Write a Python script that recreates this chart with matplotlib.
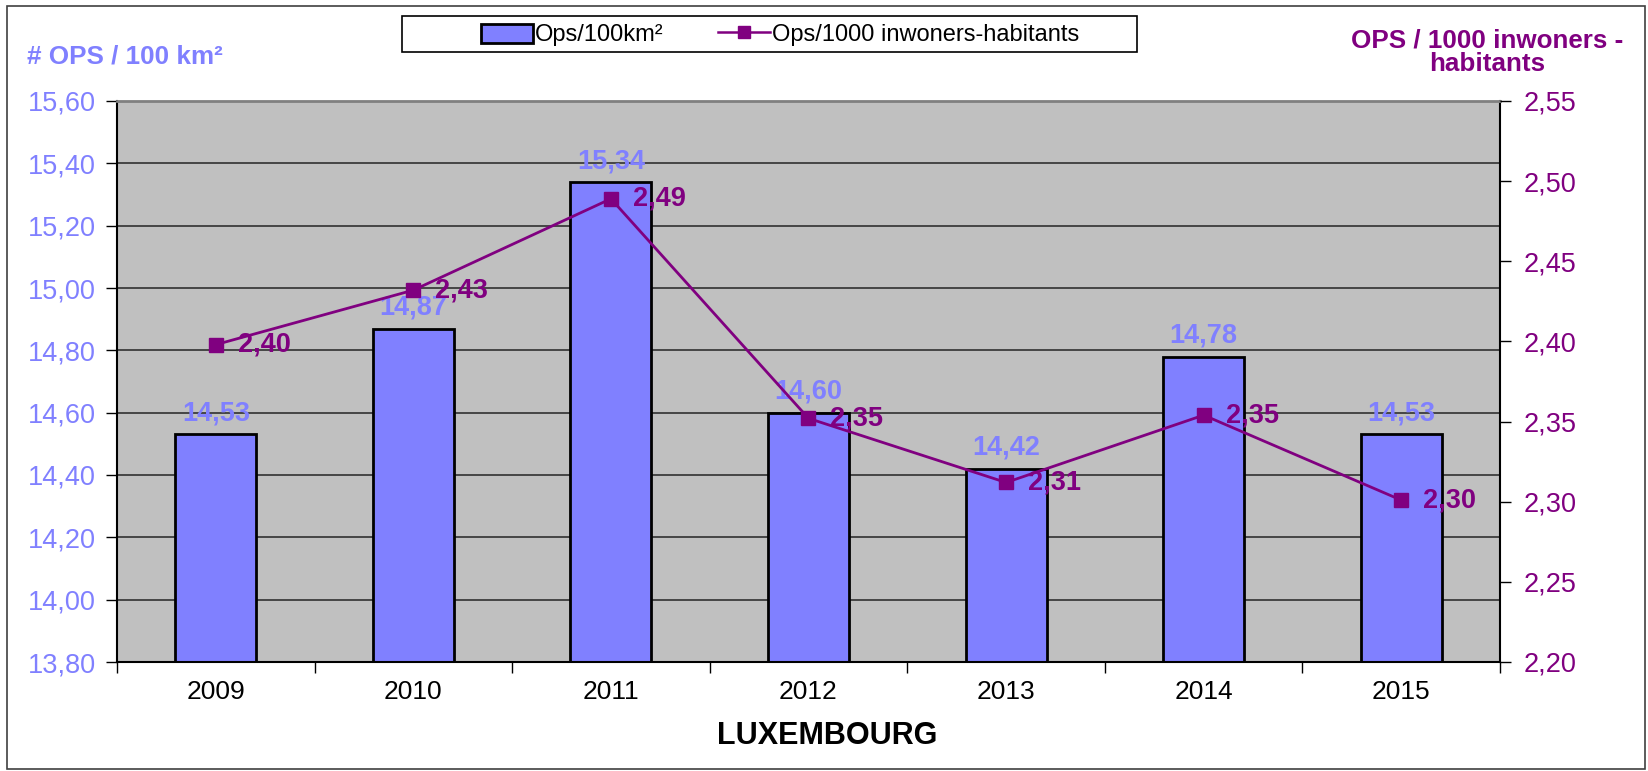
import matplotlib
matplotlib.use("Agg")
import matplotlib.pyplot as plt
from matplotlib.patches import Rectangle
from matplotlib.lines import Line2D
import numpy as np

plt.rcParams['font.family'] = ['Liberation Sans', 'DejaVu Sans']

years = ['2009', '2010', '2011', '2012', '2013', '2014', '2015']
ops_km2 = [14.53, 14.87, 15.34, 14.60, 14.42, 14.78, 14.53]
ops_km2_labels = ['14,53', '14,87', '15,34', '14,60', '14,42', '14,78', '14,53']
ops_inh = [2.398, 2.432, 2.489, 2.352, 2.312, 2.354, 2.301]
ops_inh_labels = ['2,40', '2,43', '2,49', '2,35', '2,31', '2,35', '2,30']
left_ticks = [13.80, 14.00, 14.20, 14.40, 14.60, 14.80, 15.00, 15.20, 15.40, 15.60]
right_ticks = [2.20, 2.25, 2.30, 2.35, 2.40, 2.45, 2.50, 2.55]

BAR = '#8080FF'
LINE = '#800080'
W, H = 1649, 771

fig = plt.figure(figsize=(W/100, H/100), dpi=100)
fig.patch.set_facecolor('white')
fig.add_artist(Rectangle((7/W, 2/H), (W-11)/W, (H-8)/H, transform=fig.transFigure,
                         fill=False, edgecolor='#404040', linewidth=1.2))

ax = fig.add_axes([117/W, (H-662)/H, (1500-117)/W, (662-101)/H])
ax.set_facecolor('#C0C0C0')
x = np.arange(len(years))
ax.bar(x, ops_km2, width=0.41, color=BAR, edgecolor='black', linewidth=2, zorder=2)
ax.set_ylim(13.80, 15.60)
ax.set_xlim(-0.5, len(years) - 0.5)
ax.set_yticks(left_ticks)
ax.set_yticklabels([f"{v:.2f}".replace('.', ',') for v in left_ticks], color=BAR, fontsize=19.5)
ax.yaxis.grid(True, color='#303030', linewidth=1.2)
ax.set_axisbelow(True)
ax.set_xticks(x)
ax.set_xticklabels(years, fontsize=19)
ax.tick_params(axis='x', length=0, pad=13)
ax.set_xticks(np.arange(-0.5, len(years)), minor=True)
ax.tick_params(axis='x', which='minor', length=8, width=1, direction='out')
ax.tick_params(axis='y', length=8, width=1, direction='out', pad=7)
for s in ['left', 'bottom']:
    ax.spines[s].set_color('black'); ax.spines[s].set_linewidth(1.5)
ax.spines['top'].set_color('#808080'); ax.spines['top'].set_linewidth(2)
ax.spines['right'].set_color('black'); ax.spines['right'].set_linewidth(1.5)

for xi, v, lab in zip(x, ops_km2, ops_km2_labels):
    ax.annotate(lab, (xi, v), xytext=(0, 14), textcoords='offset pixels',
                ha='center', va='baseline', color=BAR, fontsize=19.5, fontweight='bold', zorder=5)

ax2 = ax.twinx()
ax2.set_ylim(2.20, 2.55)
ax2.set_yticks(right_ticks)
ax2.set_yticklabels([f"{v:.2f}".replace('.', ',') for v in right_ticks], color=LINE, fontsize=19.5)
ax2.tick_params(axis='y', length=8, width=1, direction='out', pad=9)
ax2.plot(x, ops_inh, color=LINE, linewidth=2, marker='s', markersize=10, zorder=4)
for s in ax2.spines.values():
    s.set_visible(False)
for xi, v, lab in zip(x, ops_inh, ops_inh_labels):
    ax2.annotate(lab, (xi, v), xytext=(22, 0), textcoords='offset pixels',
                 ha='left', va='center', color=LINE, fontsize=19.5, fontweight='bold', zorder=5)

fig.text(27/W, 1-57/H, '# OPS / 100 km²', color=BAR, fontsize=18.7, fontweight='bold',
         ha='left', va='center')
fig.text(1487/W, 1-52/H, 'OPS / 1000 inwoners -\nhabitants', color=LINE, fontsize=18.7,
         fontweight='bold', ha='center', va='center', linespacing=0.95)
fig.text(827/W, 1-736/H, 'LUXEMBOURG', color='black', fontsize=22, fontweight='bold',
         ha='center', va='center')

fig.add_artist(Rectangle((402/W, 1-52/H), (1137-402)/W, 36/H, transform=fig.transFigure,
                         fill=True, facecolor='white', edgecolor='black', linewidth=1.2))
handles = [Rectangle((0, 0), 1, 1, facecolor=BAR, edgecolor='black', linewidth=2),
           Line2D([0], [0], color=LINE, linewidth=1.8, marker='s', markersize=9)]
fig.legend(handles, ['Ops/100km²', 'Ops/1000 inwoners-habitants'], loc='center',
           bbox_to_anchor=(780/W, 1-35/H), ncol=2, frameon=False, fontsize=17,
           handlelength=2.2, handleheight=0.9, columnspacing=2.3, handletextpad=0.1)

fig.savefig('out.png', dpi=100)
